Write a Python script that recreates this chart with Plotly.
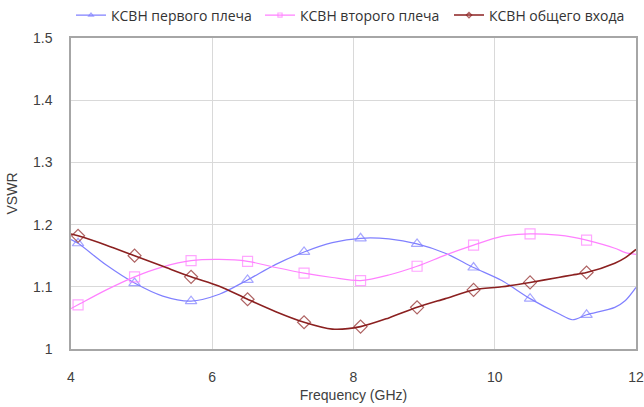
import plotly.graph_objects as go

# Frequency grid (GHz)
freq = [4.0, 4.1, 4.5, 4.9, 5.3, 5.7, 6.1, 6.5, 6.9, 7.3, 7.7, 8.1, 8.5,
        8.9, 9.3, 9.7, 10.1, 10.5, 10.9, 11.1, 11.3, 11.7, 11.85, 12.0]

# Frequencies where markers are drawn
marker_freqs = [4.1, 4.9, 5.7, 6.5, 7.3, 8.1, 8.9, 9.7, 10.5, 11.3]

vswr_arm1 = [1.176, 1.170, 1.135, 1.106, 1.085, 1.077, 1.088, 1.111, 1.136, 1.156,
             1.171, 1.178, 1.177, 1.169, 1.154, 1.131, 1.110, 1.081, 1.057, 1.047,
             1.055, 1.067, 1.078, 1.099]
vswr_arm2 = [1.065, 1.071, 1.095, 1.116, 1.132, 1.142, 1.144, 1.141, 1.131, 1.122,
             1.115, 1.110, 1.119, 1.133, 1.151, 1.167, 1.181, 1.185, 1.183, 1.180,
             1.175, 1.162, 1.155, 1.152]
vswr_input = [1.185, 1.182, 1.167, 1.150, 1.133, 1.116, 1.101, 1.080, 1.060, 1.043,
              1.032, 1.036, 1.050, 1.067, 1.081, 1.095, 1.100, 1.107, 1.115, 1.119,
              1.123, 1.138, 1.147, 1.160]

names = ["КСВН первого плеча", "КСВН второго плеча", "КСВН общего входа"]
x_ticks = [4, 6, 8, 10, 12]
y_ticks = [1, 1.1, 1.2, 1.3, 1.4, 1.5]

def sizes_for(sz):
    return [sz if any(abs(f - m) < 1e-9 for m in marker_freqs) else 0 for f in freq]

styles = [
    dict(color="#8080FF", symbol="triangle-up-open", width=1.2, size=10),
    dict(color="#FF80FF", symbol="square-open", width=1.2, size=10),
    dict(color="#8B2020", symbol="diamond-open", width=1.6, size=10),
]

fig = go.Figure()
for name, vals, st in zip(names, [vswr_arm1, vswr_arm2, vswr_input], styles):
    fig.add_trace(go.Scatter(
        x=freq, y=vals, name=name, mode="lines+markers",
        line=dict(color=st["color"], width=st["width"], shape="spline", smoothing=0.8),
        marker=dict(symbol=st["symbol"], size=sizes_for(st["size"]), color=st["color"],
                    line=dict(color=st["color"], width=1.2)),
    ))

axis_font = dict(family="Liberation Sans, Arial", size=14, color="#404040")
fig.update_layout(
    width=644, height=407,
    margin=dict(l=71, r=8, t=38, b=58, autoexpand=False),
    paper_bgcolor="white", plot_bgcolor="white",
    showlegend=True,
    legend=dict(orientation="h", x=0.0, xanchor="left", y=1.021, yanchor="bottom",
                font=dict(family="Open Sans", size=14, color="#333333"),
                entrywidth=144, bgcolor="rgba(0,0,0,0)", itemwidth=30),
    xaxis=dict(range=[4, 12], tickvals=x_ticks, showgrid=True, gridcolor="#D9D9D9",
               showline=True, linecolor="#A6A6A6", linewidth=1.5, mirror=True,
               zeroline=False, ticks="outside", ticklen=14, tickcolor="rgba(0,0,0,0)",
               tickfont=axis_font, automargin=False,
               title=dict(text="Frequency (GHz)", font=axis_font, standoff=7)),
    yaxis=dict(range=[1, 1.5], tickvals=y_ticks, showgrid=True, gridcolor="#D9D9D9",
               showline=True, linecolor="#A6A6A6", linewidth=1.5, mirror=True,
               zeroline=False, ticks="outside", ticklen=14, tickcolor="rgba(0,0,0,0)",
               tickfont=axis_font, automargin=False,
               title=dict(text="VSWR", font=axis_font, standoff=12)),
)

fig.write_html("out.html", config={"displayModeBar": False},
               post_script="document.body.style.margin='0';")
